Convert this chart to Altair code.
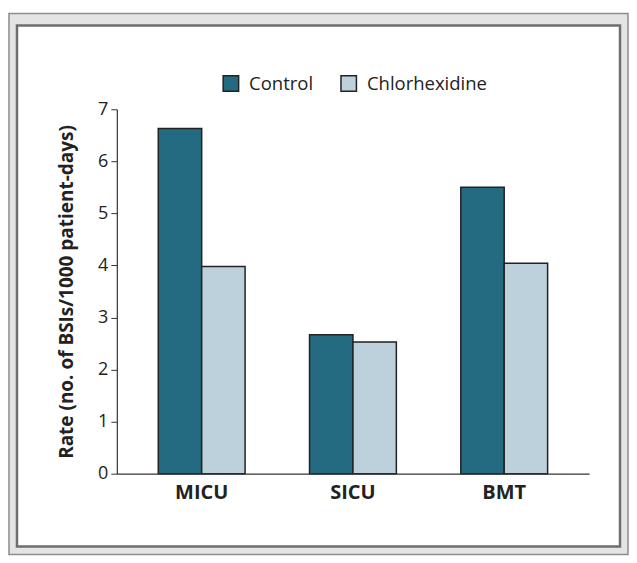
import altair as alt
import pandas as pd

units = ["MICU", "SICU", "BMT"]
groups = ["Control", "Chlorhexidine"]
control = [6.63, 2.67, 5.50]
chlorhexidine = [3.98, 2.53, 4.04]
colors = ["#246b82", "#bdd1dc"]
y_ticks = [0, 1, 2, 3, 4, 5, 6, 7]

rows = []
for u, c, h in zip(units, control, chlorhexidine):
    rows.append({"unit": u, "group": "Control", "rate": c})
    rows.append({"unit": u, "group": "Chlorhexidine", "rate": h})
df = pd.DataFrame(rows)

FONT = "Open Sans"
W, H = 473, 365

one = pd.DataFrame({"k": [0]})
outer = alt.Chart(one).mark_rect(fill="#e4e4e4", stroke="#8c8c8c", strokeWidth=1.5).encode(
    x=alt.value(-108), x2=alt.value(512), y=alt.value(-96), y2=alt.value(446)
)
inner = alt.Chart(one).mark_rect(fill="white", stroke="#6e6e6e", strokeWidth=2.5).encode(
    x=alt.value(-100), x2=alt.value(504), y=alt.value(-84), y2=alt.value(438)
)

bars = alt.Chart(df).mark_bar(stroke="#222222", strokeWidth=1.5).encode(
    x=alt.X("unit:N", sort=units,
            scale=alt.Scale(paddingInner=0.426, paddingOuter=0.274),
            axis=alt.Axis(title=None, labelAngle=0, ticks=False, labelFont=FONT,
                          labelFontSize=20, labelFontWeight="bold", labelColor="#222222",
                          labelPadding=9, domainColor="#333333", domainWidth=1.2,
                          zindex=2)),
    xOffset=alt.XOffset("group:N", sort=groups,
                        scale=alt.Scale(paddingInner=0, paddingOuter=0)),
    y=alt.Y("rate:Q", scale=alt.Scale(domain=[0, 7], nice=False),
            axis=alt.Axis(title="Rate (no. of BSIs/1000 patient-days)", values=y_ticks,
                          grid=False, tickSize=6, tickColor="#333333", domainColor="#333333",
                          domainWidth=1.2, labelFont=FONT, labelFontSize=18,
                          labelColor="#222222", labelPadding=3, titleFont=FONT,
                          titleFontSize=19, titleFontWeight="bold", titleColor="#222222",
                          titlePadding=21, zindex=2)),
    color=alt.Color("group:N", sort=groups,
                    scale=alt.Scale(domain=groups, range=colors),
                    legend=alt.Legend(title=None, orient="none", legendX=105, legendY=-35,
                                      direction="horizontal", symbolType="square",
                                      symbolSize=240, symbolStrokeColor="#222222",
                                      symbolStrokeWidth=1.5, labelFont=FONT,
                                      labelFontSize=18.5, labelColor="#222222",
                                      labelOffset=9, columnPadding=24, zindex=2)),
)

chart = alt.layer(outer, inner, bars).properties(
    width=W, height=H,
    padding={"top": 4, "left": 0, "right": 0, "bottom": 0},
    background="white",
).configure_view(stroke=None)

chart.save("out.html", embed_options={"renderer": "svg", "actions": False})
